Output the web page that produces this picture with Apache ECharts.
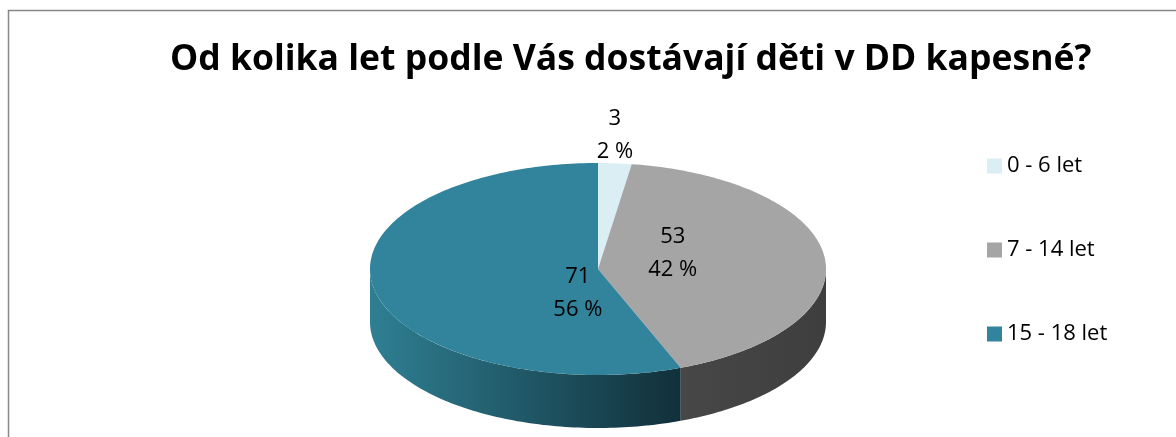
<!DOCTYPE html>
<html>
<head>
<meta charset="utf-8">
<script src="https://cdn.jsdelivr.net/npm/echarts@6/dist/echarts.min.js"></script>
<style>
  html, body { margin: 0; padding: 0; background: #fff; }
  #chart { width: 1176px; height: 437px; }
</style>
</head>
<body>
<div id="chart"></div>
<script>
const categories = ['0 - 6 let', '7 - 14 let', '15 - 18 let']
const values = [3, 53, 71]
const topColors = ['#DBEEF3', '#A5A5A5', '#31849B']
const sideColors = [['#B8CED4', '#94AAB0'], ['#474747', '#3E3E3E'], ['#2F7F93', '#11303A']]

// geometry of the flattened 3D pie
const cx = 598, cy = 269, rx = 228, ry = 106, depth = 53
// where labels sit: radius factor along the mid angle and a vertical nudge
const labelPlace = [{ f: 1, dy: -28 }, { f: 0.33, dy: -12 }, { f: 0.09, dy: 22 }]

const total = values.reduce((a, b) => a + b, 0)

function pt(theta, drop) {
    return [cx + rx * Math.sin(theta), cy - ry * Math.cos(theta) + (drop || 0)]
}

function arc(a, b, drop) {
    const pts = []
    const n = Math.max(2, Math.ceil((b - a) / 0.02))
    for (let i = 0; i <= n; i++) {
        pts.push(pt(a + (b - a) * i / n, drop))
    }
    return pts
}

function sliceRange(idx) {
    let before = 0
    for (let i = 0; i < idx; i++) before += values[i]
    const a = before / total * Math.PI * 2
    const b = (before + values[idx]) / total * Math.PI * 2
    return [a, b]
}

function renderSlice(idx) {
    return function (params, api) {
        const [a, b] = sliceRange(idx)
        const children = []
        // visible side wall (front half of the rim)
        const s = Math.max(a, Math.PI / 2)
        const e = Math.min(b, Math.PI * 1.5)
        if (s < e) {
            const top = arc(s, e, 0)
            const bottom = arc(s, e, depth).reverse()
            children.push({
                type: 'polygon',
                shape: { points: top.concat(bottom) },
                style: {
                    fill: {
                        type: 'linear', x: 0, y: 0, x2: 1, y2: 0,
                        colorStops: [
                            { offset: 0, color: sideColors[idx][0] },
                            { offset: 1, color: sideColors[idx][1] }
                        ]
                    }
                },
                z2: 1
            })
        }
        // top face
        children.push({
            type: 'polygon',
            shape: { points: [[cx, cy]].concat(arc(a, b, 0)) },
            style: { fill: topColors[idx] },
            z2: 2
        })
        // data label
        const m = (a + b) / 2
        const lp = labelPlace[idx]
        const pct = Math.round(values[idx] / total * 100)
        children.push({
            type: 'text',
            x: cx + rx * Math.sin(m) * lp.f,
            y: cy - ry * Math.cos(m) * lp.f + lp.dy,
            style: {
                text: values[idx] + '\n' + pct + ' %',
                fill: '#000',
                font: '22px "Open Sans", sans-serif',
                lineHeight: 33,
                align: 'center',
                verticalAlign: 'middle'
            },
            z2: 3
        })
        return { type: 'group', children: children }
    }
}

const chart = echarts.init(document.getElementById('chart'))

const series = categories.map((name, idx) => ({
    type: 'custom',
    name: name,
    coordinateSystem: 'none',
    silent: true,
    itemStyle: { color: topColors[idx] },
    data: [values[idx]],
    renderItem: renderSlice(idx)
}))

chart.setOption({
    animation: false,
    title: {
        text: 'Od kolika let podle Vás dostávají děti v DD kapesné?',
        left: 165,
        top: 37,
        textStyle: {
            fontFamily: 'Open Sans',
            fontWeight: 'bold',
            fontSize: 35.5,
            color: '#000'
        }
    },
    legend: {
        orient: 'vertical',
        left: 982,
        top: 150,
        icon: 'rect',
        itemWidth: 15,
        itemHeight: 15,
        itemGap: 62,
        selectedMode: false,
        textStyle: { fontFamily: 'Open Sans', fontSize: 22, color: '#000' },
        data: categories
    },
    graphic: [{
        type: 'rect',
        shape: { x: 8.5, y: 10.5, width: 1400, height: 600 },
        style: { fill: 'none', stroke: '#878787', lineWidth: 1.5 },
        silent: true
    }],
    series: series
})
</script>
</body>
</html>
